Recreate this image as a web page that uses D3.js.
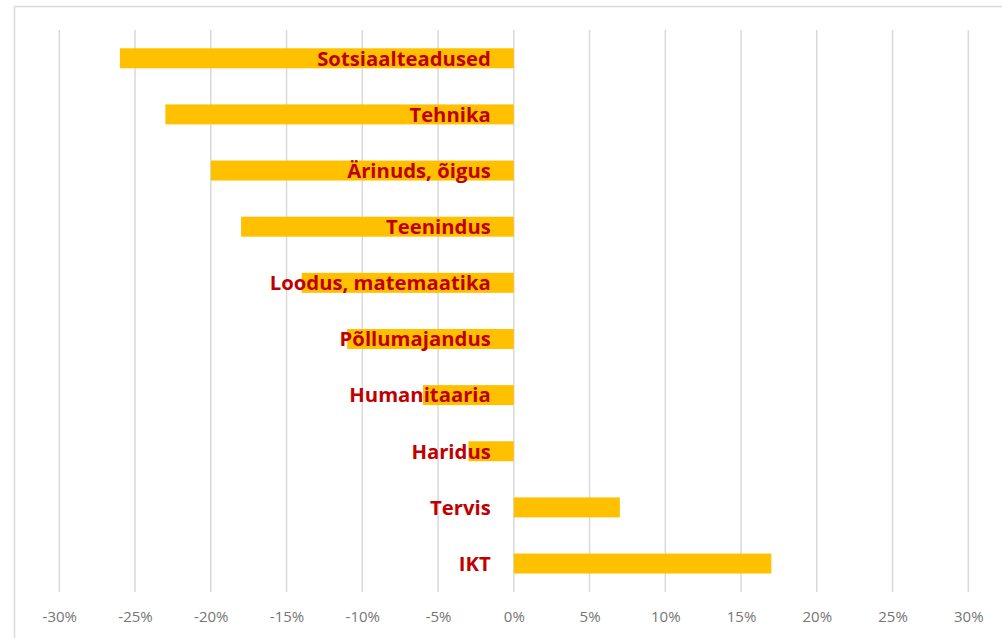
<!DOCTYPE html>
<html>
<head>
<meta charset="utf-8">
<script src="https://cdn.jsdelivr.net/npm/d3@7"></script>
<style>
html,body{margin:0;padding:0;background:#fff;}
svg{display:block;}
</style>
</head>
<body>
<svg id="chart" width="1002" height="638"></svg>
<script>
const categories = ["Sotsiaalteadused","Tehnika","Ärinuds, õigus","Teenindus","Loodus, matemaatika","Põllumajandus","Humanitaaria","Haridus","Tervis","IKT"];
const values = [-26,-23,-20,-18,-14,-11,-6,-3,7,17];
const tickValues = [-30,-25,-20,-15,-10,-5,0,5,10,15,20,25,30];

const svg = d3.select("#chart");
const W = 1002, H = 638;

// chart border (light gray frame)
svg.append("rect").attr("x",14.5).attr("y",6.5).attr("width",W).attr("height",H)
  .attr("fill","none").attr("stroke","#d9d9d9").attr("stroke-width",1.5);

const x = d3.scaleLinear().domain([-30,30]).range([59.3,968.3]);
const y = d3.scaleBand().domain(categories).range([30.2,591.6]).paddingInner(0.644).paddingOuter(0.322);

// gridlines
svg.append("g").selectAll("line").data(tickValues).join("line")
  .attr("x1",d=>x(d)).attr("x2",d=>x(d))
  .attr("y1",30).attr("y2",592)
  .attr("stroke","#d9d9d9").attr("stroke-width",1.5);

// bars
svg.append("g").selectAll("rect").data(categories).join("rect")
  .attr("x",(d,i)=>x(Math.min(0,values[i])))
  .attr("width",(d,i)=>Math.abs(x(values[i])-x(0)))
  .attr("y",d=>y(d))
  .attr("height",y.bandwidth())
  .attr("fill","#FFC000");

// category labels
svg.append("g").selectAll("text").data(categories).join("text")
  .attr("x",x(0)-23)
  .attr("y",d=>y(d)+y.bandwidth()/2)
  .attr("dy","0.36em")
  .attr("text-anchor","end")
  .attr("font-family","'Open Sans', 'Noto Sans', sans-serif")
  .attr("font-weight","bold")
  .attr("font-size",20.3)
  .attr("fill","#C00000")
  .text(d=>d);

// x axis labels
const axis = d3.axisBottom(x).tickValues(tickValues).tickSize(0).tickPadding(0)
  .tickFormat(d=>d+"%");
const gx = svg.append("g").attr("transform","translate(0,622)").call(axis);
gx.select(".domain").remove();
gx.selectAll("text")
  .attr("font-family","'Open Sans', 'Noto Sans', sans-serif")
  .attr("font-size",15)
  .attr("fill","#767676")
  .attr("dy","0");
</script>
</body>
</html>
